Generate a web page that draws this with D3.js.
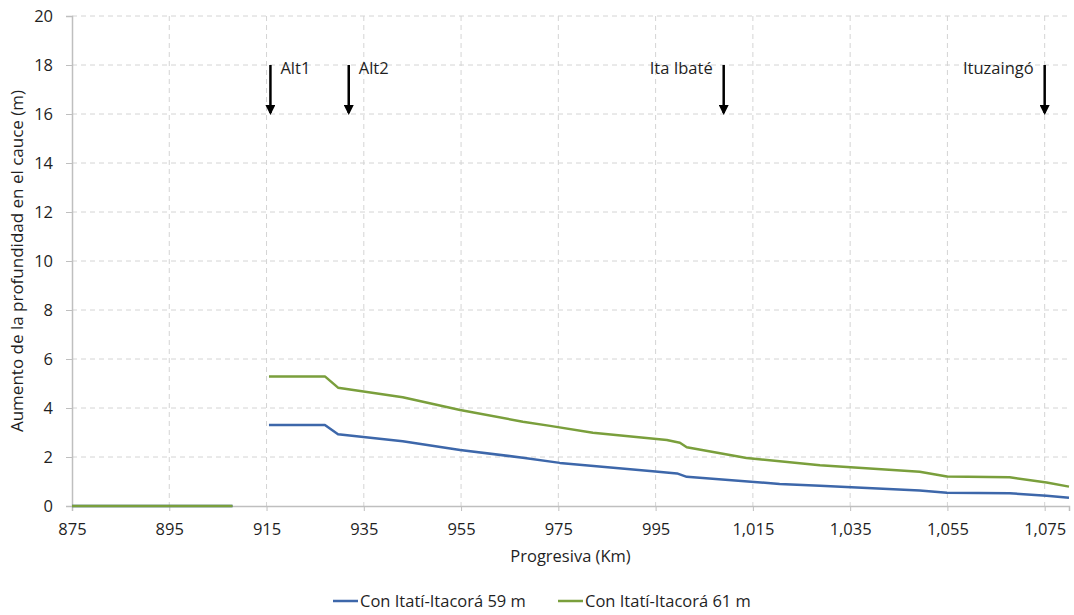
<!DOCTYPE html>
<html>
<head>
<meta charset="utf-8">
<script src="https://cdn.jsdelivr.net/npm/d3@7"></script>
<style>
  body { margin: 0; background: #fff; }
  svg { font-family: "Open Sans", "Noto Sans", sans-serif; }
</style>
</head>
<body>
<svg id="chart" width="1074" height="615"></svg>
<script>
// km along the river, increase in depth (m); null = gap in the line
const serie59 = [
  [875, 0], [908, 0], [911, null],
  [915.5, 3.31], [927, 3.31], [929.7, 2.93], [943, 2.64], [954.8, 2.29],
  [967.7, 1.97], [975.3, 1.76], [994.4, 1.42], [999.4, 1.33], [1001.4, 1.19],
  [1020.5, 0.9], [1028.8, 0.83], [1049.3, 0.63], [1054.9, 0.54],
  [1067.8, 0.52], [1075.4, 0.42], [1080, 0.34]
];
const serie61 = [
  [875, 0], [908, 0], [911, null],
  [915.5, 5.29], [927, 5.29], [929.7, 4.83], [943, 4.44], [954.8, 3.92],
  [967.7, 3.44], [973.3, 3.27], [982.1, 2.99], [997.3, 2.69], [1000, 2.58],
  [1001.4, 2.4], [1013.7, 1.96], [1028.8, 1.66], [1049.3, 1.4], [1054.9, 1.2],
  [1067.8, 1.17], [1075.4, 0.96], [1080, 0.79]
];
const seriesNames = ["Con Itatí-Itacorá 59 m", "Con Itatí-Itacorá 61 m"];
const seriesColors = ["#3d67aa", "#7a9f3c"];

const xTicks = [875, 895, 915, 935, 955, 975, 995, 1015, 1035, 1055, 1075];
const yTicks = [0, 2, 4, 6, 8, 10, 12, 14, 16, 18, 20];

// arrows marking places: km, label, which side the label goes
const marks = [
  { km: 915.8, label: "Alt1", side: "right" },
  { km: 931.9, label: "Alt2", side: "right" },
  { km: 1009, label: "Ita Ibaté", side: "left" },
  { km: 1075, label: "Ituzaingó", side: "left" }
];

const plotL = 72, plotR = 1069, plotT = 16, plotB = 506;

var svg = d3.select("#chart");

var x = d3.scaleLinear().domain([875, 1080]).range([plotL, plotR]);
var y = d3.scaleLinear().domain([0, 20]).range([plotB, plotT]);

var fmt = d3.format(",");

// grid
svg.append("g")
  .selectAll("line")
  .data(yTicks.filter(d => d > 0))
  .enter().append("line")
  .attr("x1", plotL).attr("x2", plotR)
  .attr("y1", d => y(d)).attr("y2", d => y(d))
  .attr("stroke", "#d4d4d4")
  .attr("stroke-dasharray", "5,4");

svg.append("g")
  .selectAll("line")
  .data(xTicks.filter(d => d > 875))
  .enter().append("line")
  .attr("x1", d => x(d)).attr("x2", d => x(d))
  .attr("y1", plotT).attr("y2", plotB)
  .attr("stroke", "#d4d4d4")
  .attr("stroke-dasharray", "5,4");

// axes
var xAxis = svg.append("g")
  .attr("transform", "translate(0," + plotB + ")")
  .call(d3.axisBottom(x).tickValues(xTicks).tickSize(5).tickPadding(12).tickFormat(fmt));
var yAxis = svg.append("g")
  .attr("transform", "translate(" + plotL + ",0)")
  .call(d3.axisLeft(y).tickValues(yTicks).tickSize(6).tickPadding(13));

[xAxis, yAxis].forEach(function (a) {
  a.select(".domain").attr("stroke", "#bfbfbf").attr("stroke-width", 1.5);
  a.selectAll(".tick line").attr("stroke", "#bfbfbf");
  a.selectAll(".tick text")
    .attr("fill", "#1f1f1f")
    .style("font-size", "16.5px")
    .style("font-family", "'Open Sans', 'Noto Sans', sans-serif");
});
yAxis.selectAll(".tick text").attr("dy", "0.35em");

// lines
var line = d3.line()
  .defined(d => d[1] != null)
  .x(d => x(d[0]))
  .y(d => y(d[1]));

[serie59, serie61].forEach(function (s, i) {
  svg.append("path")
    .datum(s)
    .attr("fill", "none")
    .attr("stroke", seriesColors[i])
    .attr("stroke-width", 2.5)
    .attr("stroke-linejoin", "round")
    .attr("d", line);
});

// arrows
svg.append("defs").append("marker")
  .attr("id", "head")
  .attr("viewBox", "0 0 10 10")
  .attr("refX", 8).attr("refY", 5)
  .attr("markerWidth", 4).attr("markerHeight", 4)
  .attr("orient", "auto")
  .append("path")
  .attr("d", "M0,0 L10,5 L0,10 Z")
  .attr("fill", "#000");

var m = svg.append("g").selectAll("g").data(marks).enter().append("g");
m.append("line")
  .attr("x1", d => x(d.km)).attr("x2", d => x(d.km))
  .attr("y1", y(18)).attr("y2", y(16) - 1)
  .attr("stroke", "#000")
  .attr("stroke-width", 2.5)
  .attr("marker-end", "url(#head)");
m.append("text")
  .attr("x", d => d.side == "right" ? x(d.km) + 10 : x(d.km) - 11)
  .attr("y", y(18) + 9)
  .attr("text-anchor", d => d.side == "right" ? "start" : "end")
  .attr("fill", "#1f1f1f")
  .style("font-size", "16.5px")
  .text(d => d.label);

// axis titles
svg.append("text")
  .attr("x", (plotL + plotR) / 2)
  .attr("y", 562)
  .attr("text-anchor", "middle")
  .attr("fill", "#1f1f1f")
  .style("font-size", "16.5px")
  .text("Progresiva (Km)");

svg.append("text")
  .attr("transform", "translate(23," + (plotT + plotB) / 2 + ") rotate(-90)")
  .attr("text-anchor", "middle")
  .attr("fill", "#1f1f1f")
  .style("font-size", "17px")
  .text("Aumento de la profundidad en el cauce (m)");

// legend
var legX = [333, 558];
var leg = svg.append("g").selectAll("g").data(seriesNames).enter().append("g")
  .attr("transform", (d, i) => "translate(" + legX[i] + ",601)");
leg.append("line")
  .attr("x1", 0).attr("x2", 25)
  .attr("stroke", (d, i) => seriesColors[i])
  .attr("stroke-width", 2.5);
leg.append("text")
  .attr("x", 27)
  .attr("dy", "0.35em")
  .attr("fill", "#1f1f1f")
  .style("font-size", "16.5px")
  .text(d => d);
</script>
</body>
</html>
